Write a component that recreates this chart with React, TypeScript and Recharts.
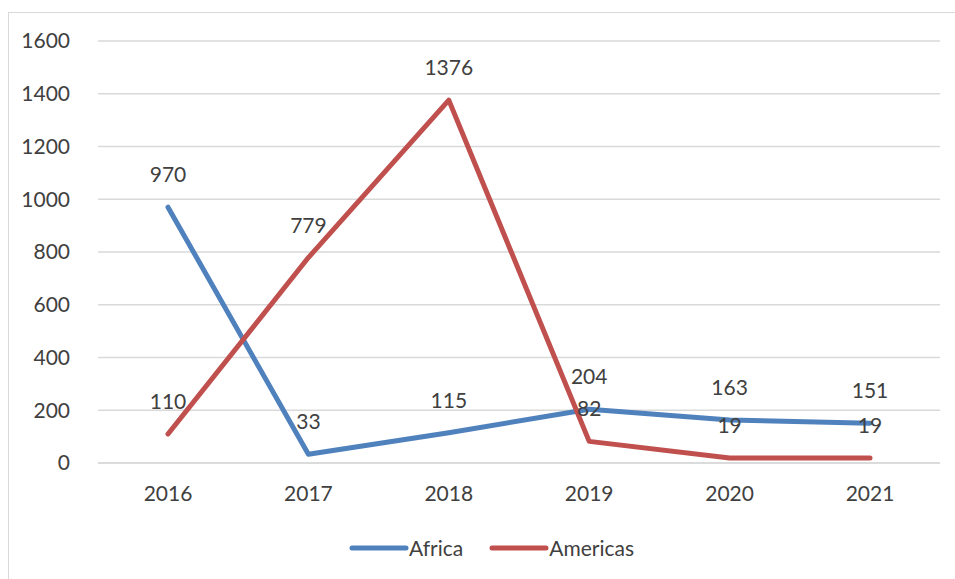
import React from "react";
import {
  LineChart,
  Line,
  XAxis,
  YAxis,
  CartesianGrid,
  Legend,
  LabelList,
} from "recharts";

const years = ["2016", "2017", "2018", "2019", "2020", "2021"];
const africa = [970, 33, 115, 204, 163, 151];
const americas = [110, 779, 1376, 82, 19, 19];
const yTicks = [0, 200, 400, 600, 800, 1000, 1200, 1400, 1600];

const data = years.map((year, i) => ({
  year,
  Africa: africa[i],
  Americas: americas[i],
}));

const FONT = "Lato, 'Open Sans', sans-serif";
const TEXT = "#404040";

const renderLegend = (props: any) => {
  const { payload } = props;
  return (
    <div style={{ display: "flex", justifyContent: "center", gap: 26, paddingLeft: 28 }}>
      {payload.map((entry: any) => (
        <div key={entry.value} style={{ display: "flex", alignItems: "center" }}>
          <svg width={60} height={10}>
            <line
              x1={3}
              y1={5}
              x2={57}
              y2={5}
              stroke={entry.color}
              strokeWidth={5}
              strokeLinecap="round"
            />
          </svg>
          <span style={{ color: TEXT, fontFamily: FONT, fontSize: 21 }}>
            {entry.value}
          </span>
        </div>
      ))}
    </div>
  );
};

export default function App() {
  return (
    <div style={{ position: "fixed", left: 0, top: 0, width: 955, height: 579, background: "#fff", overflow: "hidden" }}>
      <div
        style={{
          position: "absolute",
          left: 8,
          top: 12,
          width: 960,
          height: 600,
          border: "1px solid #d9d9d9",
        }}
      />
      <LineChart
        width={955}
        height={579}
        data={data}
        margin={{ top: 41, right: 15, left: 0, bottom: 41 }}
        style={{ position: "absolute", left: 0, top: 0 }}
      >
        <CartesianGrid vertical={false} stroke="#d9d9d9" strokeWidth={1.5} />
        <XAxis
          dataKey="year"
          padding={{ left: 70, right: 70 }}
          axisLine={{ stroke: "#d9d9d9", strokeWidth: 1.5 }}
          tickLine={false}
          height={50}
          tickMargin={17}
          tick={{ fill: TEXT, fontSize: 21, fontFamily: FONT }}
        />
        <YAxis
          width={98}
          domain={[0, 1600]}
          ticks={yTicks}
          axisLine={false}
          tickLine={false}
          tickMargin={22}
          tick={{ fill: TEXT, fontSize: 21, fontFamily: FONT }}
        />
        <Legend
          content={renderLegend}
          verticalAlign="bottom"
          wrapperStyle={{ top: 535, left: 0, width: 955 }}
        />
        <Line
          dataKey="Africa"
          stroke="#4f81bd"
          strokeWidth={5}
          dot={false}
          isAnimationActive={false}
          strokeLinecap="round"
          strokeLinejoin="round"
        >
          <LabelList
            dataKey="Africa"
            position="top"
            offset={25}
            style={{ fill: TEXT, fontSize: 21, fontFamily: FONT }}
          />
        </Line>
        <Line
          dataKey="Americas"
          stroke="#c0504d"
          strokeWidth={5}
          dot={false}
          isAnimationActive={false}
          strokeLinecap="round"
          strokeLinejoin="round"
        >
          <LabelList
            dataKey="Americas"
            position="top"
            offset={25}
            style={{ fill: TEXT, fontSize: 21, fontFamily: FONT }}
          />
        </Line>
      </LineChart>
    </div>
  );
}
